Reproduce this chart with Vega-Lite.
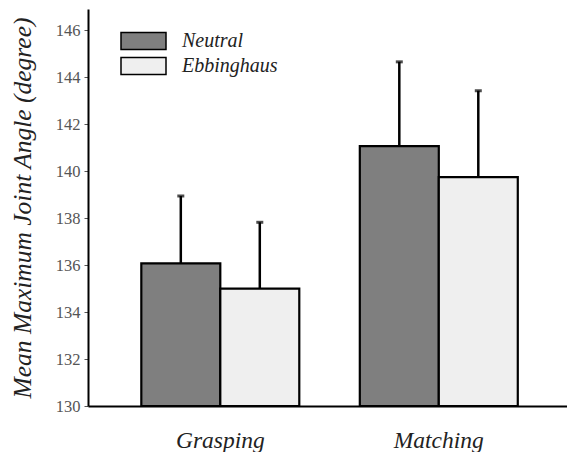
{
  "$schema": "https://vega.github.io/schema/vega-lite/v6.json",
  "width": 479,
  "height": 397,
  "autosize": {"type": "none"},
  "padding": {"left": 88, "top": 9, "right": 0, "bottom": 46},
  "background": "white",
  "config": {
    "view": {"stroke": null},
    "font": "Liberation Serif"
  },
  "data": {
    "values": [
      {"task": "Grasping", "condition": "Neutral", "mean": 136.07, "upper": 138.94},
      {"task": "Grasping", "condition": "Ebbinghaus", "mean": 135.0, "upper": 137.82},
      {"task": "Matching", "condition": "Neutral", "mean": 141.06, "upper": 144.65},
      {"task": "Matching", "condition": "Ebbinghaus", "mean": 139.74, "upper": 143.42}
    ]
  },
  "encoding": {
    "x": {
      "field": "task",
      "type": "nominal",
      "sort": ["Grasping", "Matching"],
      "scale": {"paddingInner": 0.277, "paddingOuter": 0.2346, "align": 0.52},
      "axis": {
        "title": null,
        "labelAngle": 0,
        "ticks": false,
        "domainColor": "black",
        "domainWidth": 2,
        "labelFont": "Liberation Serif",
        "labelFontStyle": "italic",
        "labelFontSize": 23.5,
        "labelColor": "#222",
        "labelPadding": 22
      }
    },
    "xOffset": {
      "field": "condition",
      "type": "nominal",
      "sort": ["Neutral", "Ebbinghaus"],
      "scale": {"paddingInner": 0, "paddingOuter": 0}
    }
  },
  "layer": [
    {
      "mark": {"type": "bar", "stroke": "black", "strokeWidth": 2.2},
      "encoding": {
        "y": {
          "field": "mean",
          "type": "quantitative",
          "scale": {"domain": [130, 146.9], "nice": false, "zero": false},
          "axis": {
            "title": "Mean Maximum Joint Angle (degree)",
            "titleFont": "Liberation Serif",
            "titleFontStyle": "italic",
            "titleFontWeight": "normal",
            "titleFontSize": 25.5,
            "titleColor": "#222",
            "titlePadding": 20,
            "values": [130, 132, 134, 136, 138, 140, 142, 144, 146],
            "grid": false,
            "domainColor": "black",
            "domainWidth": 2,
            "tickColor": "#555",
            "tickSize": 4,
            "labelFont": "Liberation Serif",
            "labelFontSize": 16.5,
            "labelColor": "#555",
            "labelPadding": 4
          }
        },
        "y2": {"datum": 130},
        "fill": {
          "field": "condition",
          "type": "nominal",
          "sort": ["Neutral", "Ebbinghaus"],
          "scale": {"domain": ["Neutral", "Ebbinghaus"], "range": ["#7f7f7f", "#efefef"]},
          "legend": {
            "title": null,
            "orient": "none",
            "legendX": 44.5,
            "legendY": 21,
            "symbolType": "M-2.25,-0.85H2.25V0.85H-2.25Z",
            "symbolSize": 400,
            "symbolStrokeColor": "black",
            "symbolStrokeWidth": 1.5,
            "symbolOpacity": 1,
            "labelFont": "Liberation Serif",
            "labelFontStyle": "italic",
            "labelFontSize": 20,
            "labelColor": "#222",
            "labelOffset": 27.5,
            "rowPadding": 1,
            "padding": 0
          }
        }
      }
    },
    {
      "mark": {"type": "rule", "color": "black", "strokeWidth": 2.5},
      "encoding": {
        "y": {"field": "mean", "type": "quantitative"},
        "y2": {"field": "upper"}
      }
    },
    {
      "mark": {"type": "tick", "color": "black", "size": 7, "thickness": 3},
      "encoding": {
        "y": {"field": "upper", "type": "quantitative"}
      }
    }
  ]
}
